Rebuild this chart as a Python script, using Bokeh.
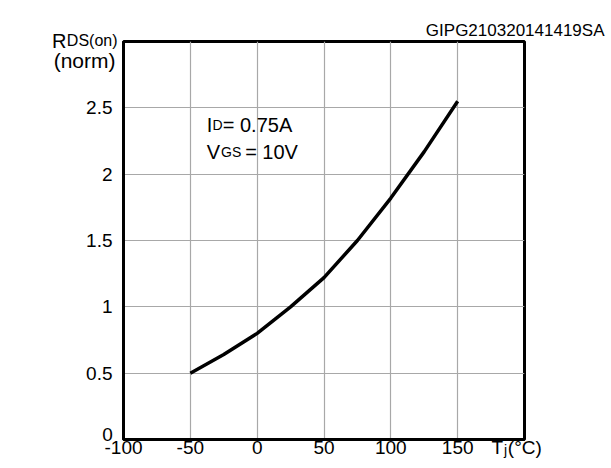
from bokeh.plotting import figure
from bokeh.models import Label, FixedTicker, NumeralTickFormatter
from bokeh.embed import file_html
from bokeh.resources import INLINE

# data
temp_c = [-50, -25, 0, 25, 50, 75, 100, 125, 150]
rds_norm = [0.50, 0.64, 0.80, 1.00, 1.22, 1.50, 1.82, 2.17, 2.55]
x_ticks = [-100, -50, 0, 50, 100, 150]
y_ticks = [0, 0.5, 1, 1.5, 2, 2.5]
code_text = "GIPG210320141419SA"

FONT = "Liberation Sans"

p = figure(width=608, height=464, x_range=(-100, 200), y_range=(0, 3),
           output_backend="svg", toolbar_location=None,
           min_border_left=123, min_border_right=84,
           min_border_top=41, min_border_bottom=25)

p.background_fill_color = "white"
p.border_fill_color = "white"
p.outline_line_color = "black"
p.outline_line_width = 3

for ax in (p.xaxis[0], p.yaxis[0]):
    ax.axis_line_width = 3
    ax.axis_line_color = "black"
    ax.major_tick_in = 0
    ax.major_tick_out = 0
    ax.minor_tick_in = 0
    ax.minor_tick_out = 0
    ax.major_label_text_font = FONT
    ax.major_label_text_font_size = "19px"
    ax.major_label_text_color = "black"
    ax.formatter = NumeralTickFormatter(format="0.[0]")

p.xaxis.ticker = FixedTicker(ticks=x_ticks)
p.yaxis.ticker = FixedTicker(ticks=y_ticks)
p.yaxis.major_label_overrides = {0: ""}   # the "0" is drawn slightly raised below
p.xaxis.major_label_standoff = 1
p.yaxis.major_label_standoff = 11

p.xgrid.ticker = FixedTicker(ticks=x_ticks)
p.ygrid.ticker = FixedTicker(ticks=y_ticks)
for g in (p.xgrid[0], p.ygrid[0]):
    g.grid_line_color = "#a8a8a8"
    g.grid_line_width = 1.2

p.line(temp_c, rds_norm, line_color="black", line_width=3.5)


def mk(x, y, text, size, align="left", units="screen"):
    return Label(x=x, y=y, text=text, text_font=FONT,
                 text_font_size=size, text_align=align,
                 text_baseline="alphabetic", text_color="black",
                 x_units=units, y_units=units)


# labels placed in side panels (offsets relative to each panel box)
p.add_layout(mk(-6, 1, "DS(on)", "16px", align="right"), "above")
p.add_layout(mk(481, -6, code_text, "17px", align="right"), "above")

p.add_layout(mk(-3, 399, "R", "20px", align="right"), "left")
p.add_layout(mk(108, 379, "(norm)", "21px", align="right"), "left")

p.add_layout(mk(-33, -8, "T", "19px"), "right")
p.add_layout(mk(-32.6, -10, "j", "14px"), "right")
p.add_layout(mk(-31.7, -8, "(°C)", "19px"), "right")
p.add_layout(mk(-460.7, 5, "0", "19px", align="right"), "right")

# conditions (inside the frame, data units)
p.add_layout(mk(-37.75, 2.367, "I", "20px", units="data"))
p.add_layout(mk(-33.5, 2.367, "D", "14px", units="data"))
p.add_layout(mk(-25.75, 2.367, "= 0.75A", "20px", units="data"))
p.add_layout(mk(-37.75, 2.17, "V", "20px", units="data"))
p.add_layout(mk(-27.0, 2.17, "GS", "14px", units="data"))
p.add_layout(mk(-9.0, 2.17, "= 10V", "20px", units="data"))

open("out.html", "w").write(file_html(p, INLINE))
